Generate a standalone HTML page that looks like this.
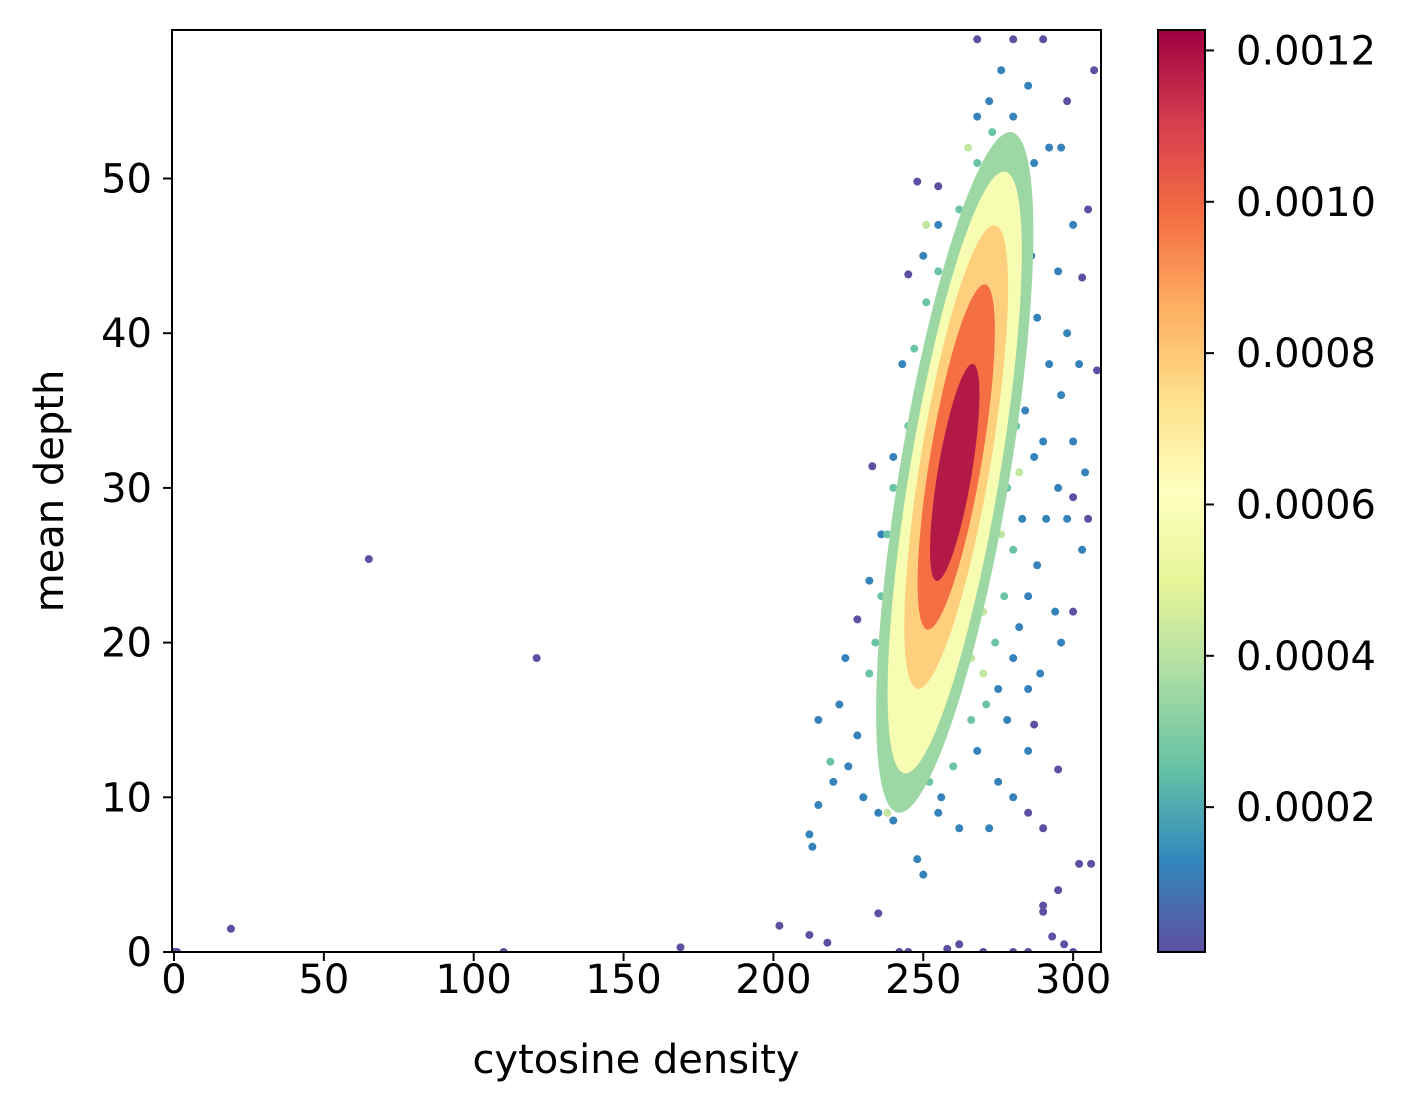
<!DOCTYPE html>
<html><head><meta charset="utf-8"><style>
body{margin:0;background:#fff;}
svg{display:block;font-family:"DejaVu Sans","Liberation Sans",sans-serif;}
</style></head><body>
<svg id="chart" width="1410" height="1113" viewBox="0 0 1410 1113">
<defs>
<linearGradient id="cmap" x1="0" y1="1" x2="0" y2="0">
<stop offset="0" stop-color="#5e4fa2"/><stop offset="0.1" stop-color="#3288bd"/><stop offset="0.2" stop-color="#66c2a5"/><stop offset="0.3" stop-color="#abdda4"/><stop offset="0.4" stop-color="#e6f598"/><stop offset="0.5" stop-color="#ffffbf"/><stop offset="0.6" stop-color="#fee08b"/><stop offset="0.7" stop-color="#fdae61"/><stop offset="0.8" stop-color="#f46d43"/><stop offset="0.9" stop-color="#d53e4f"/><stop offset="1" stop-color="#9e0142"/>
</linearGradient>
<clipPath id="plotclip"><rect x="172" y="30" width="929" height="922"/></clipPath>
</defs>
<g id="marks" clip-path="url(#plotclip)"></g>
<rect x="172" y="30" width="929" height="922" fill="none" stroke="#000" stroke-width="2"/>
<g id="axes"></g>
<text x="636" y="1073" font-size="40" text-anchor="middle">cytosine density</text>
<text transform="translate(63,491) rotate(-90)" font-size="40" text-anchor="middle">mean depth</text>
<rect x="1158" y="30" width="47" height="922" fill="url(#cmap)" stroke="#000" stroke-width="2"/>
<g id="cbaxis"></g>
</svg>
<script>
const xTicks=[0,50,100,150,200,250,300];
const yTicks=[0,10,20,30,40,50];
const cbTicks=[0.0002,0.0004,0.0006,0.0008,0.0010,0.0012];
const cbLabels=["0.0002","0.0004","0.0006","0.0008","0.0010","0.0012"];
// density core levels and centre (data units)
const coreLevels=[0.00035,0.00058,0.00078,0.00098,0.00118];
const coreCenterX=[260.5,260.5,261,261,260.5];
const coreCenterY=[31,31,32,32,31];
const coreGeom=[[345,55],[305,45],[235,35],[175,26],[110,17]];
// scattered points
const ptX=[0,1,19,65,121,110,169,202,212,218,235,248,255,245,228,233,300,305,307,306,302,290,295,293,297,300,270,258,262,245,242,280,285,290,285,290,287,295,300,305,308,303,298,293,290,268,280,
296,292,285,280,287,300,295,298,302,292,296,300,304,295,291,298,303,288,294,296,289,285,278,280,285,275,280,272,262,255,248,250,240,235,230,225,220,215,212,213,215,222,224,232,236,240,243,250,255,268,272,276,280,286,288,284,287,283,290,285,282,275,268,256,245,236,228,232,219,
277,274,280,283,279,281,278,280,277,274,271,266,260,252,245,240,236,234,236,238,240,245,247,251,255,262,268,273,276,279,275,282,276,
262,266,271,274,273,272,271,270,266,260,253,246,241,239,240,243,246,249,253,258,268,270,276,265,251,244,238,236];
const ptY=[0,0,1.5,25.4,19,0,0.3,1.7,1.1,0.6,2.5,49.8,49.5,43.8,21.5,31.4,29.4,28,57,5.7,5.7,2.6,4,1,0.5,0,0,0.2,0.5,0,0,0,0,3,9,8,14.7,11.8,22,48,37.6,43.6,55,60,59,59,59,
52,52,56,54,51,47,44,40,38,38,36,33,31,30,28,28,26,25,22,20,18,17,15,19,13,11,10,8,8,9,6,5,8.5,9,10,12,11,9.5,7.6,6.8,15,16,19,24,27,32,38,45,47,54,55,57,48,45,41,35,32,28,33,23,21,17,13,10,12.4,13,14,18,12.3,
52,50,46,42,38,34,30,26,23,20,16,15,12,11,10.5,11,15,20,23,27,30,34,39,42,44,48,51,53,45,41,35,31,27,
45,48,47,42,37,32,27,22,19,16,15,14,16,20,24,28,33,37,40,43,25,18,40,52,47,12,9,17];
const ptD=[];
for(let i=0;i<ptX.length;i++){ptD.push(i<47?0.00001:(i<47+67?0.00012:(i<47+67+33?0.00026:0.00042)));}

const NS="http://www.w3.org/2000/svg";
const X0=-0.67,X1=309.3,PX0=172,PX1=1101;
const Y0=0,Y1=59.6,PY0=952,PY1=30;
const xs=v=>PX0+(v-X0)/(X1-X0)*(PX1-PX0);
const ys=v=>PY0-(v-Y0)/(Y1-Y0)*(PY0-PY1);
const cbMin=0.0000086,cbMax=0.001227;
const cs=v=>952-(v-cbMin)/(cbMax-cbMin)*922;
const stops=["#5e4fa2","#3288bd","#66c2a5","#abdda4","#e6f598","#ffffbf","#fee08b","#fdae61","#f46d43","#d53e4f","#9e0142"];
function hex(c){return [1,3,5].map(i=>parseInt(c.substr(i,2),16));}
function cmap(v){let t=Math.max(0,Math.min(1,(v-cbMin)/(cbMax-cbMin)))*10;let i=Math.min(9,Math.floor(t));let f=t-i;let a=hex(stops[i]),b=hex(stops[i+1]);return "rgb("+a.map((x,k)=>Math.round(x+(b[k]-x)*f)).join(",")+")";}
function mk(tag,attrs,parent){const e=document.createElementNS(NS,tag);for(const k in attrs)e.setAttribute(k,attrs[k]);parent.appendChild(e);return e;}
const marks=document.getElementById('marks');
for(let i=0;i<ptX.length;i++){
 const c=mk('circle',{cx:xs(ptX[i]),cy:ys(ptY[i]),r:4,fill:cmap(ptD[i])},marks);
 
 
}
for(let i=0;i<coreLevels.length;i++){
 const cx=xs(coreCenterX[i]),cy=ys(coreCenterY[i]);
 const e=mk('ellipse',{cx:cx,cy:cy,rx:coreGeom[i][1],ry:coreGeom[i][0],fill:cmap(coreLevels[i]),transform:"rotate(9.5 "+cx+" "+cy+")"},marks);
 
 
}
const axes=document.getElementById('axes');
xTicks.forEach(t=>{
 const l=mk('line',{x1:xs(t),x2:xs(t),y1:952,y2:961,stroke:'#000','stroke-width':2},axes);
 
 
 const tx=mk('text',{x:xs(t),y:993,'font-size':40,'text-anchor':'middle'},axes);tx.textContent=t;
 
 
});
yTicks.forEach(t=>{
 const l=mk('line',{x1:163,x2:172,y1:ys(t),y2:ys(t),stroke:'#000','stroke-width':2},axes);
 
 
 const tx=mk('text',{x:152,y:ys(t)+14,'font-size':40,'text-anchor':'end'},axes);tx.textContent=t;
 
 
});
const cb=document.getElementById('cbaxis');
cbTicks.forEach((t,i)=>{
 const l=mk('line',{x1:1205,x2:1214,y1:cs(t),y2:cs(t),stroke:'#000','stroke-width':2},cb);
 
 
 const tx=mk('text',{x:1236,y:cs(t)+14,'font-size':40},cb);tx.textContent=cbLabels[i];
 
 
});
</script>
</body></html>
